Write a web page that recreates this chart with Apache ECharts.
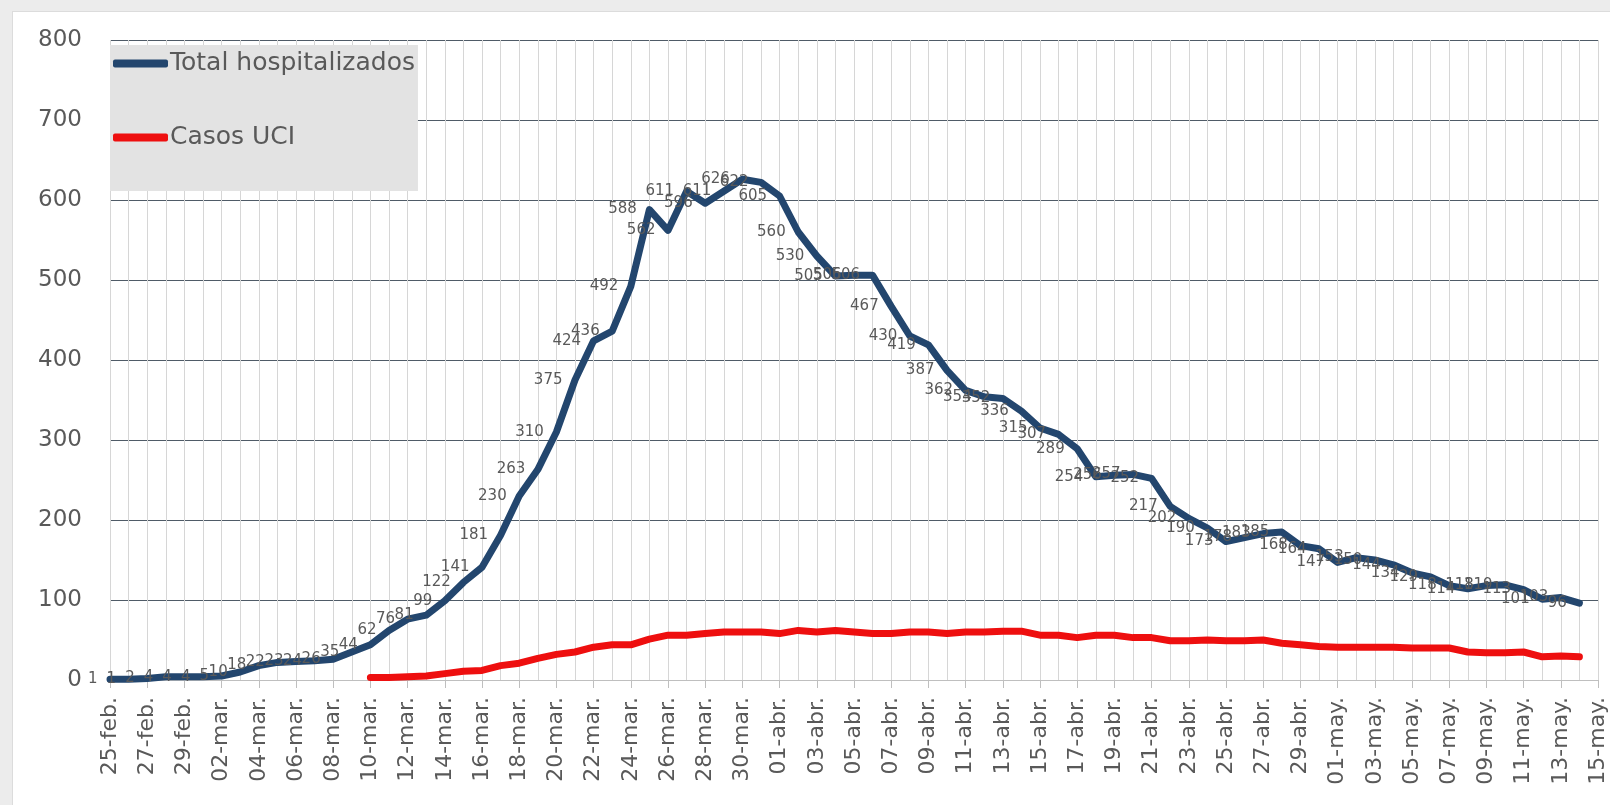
<!DOCTYPE html>
<html>
<head>
<meta charset="utf-8">
<script src="https://cdn.jsdelivr.net/npm/echarts@6/dist/echarts.min.js"></script>
<style>
  body { margin: 0; background: #ececec; }
  #chart {
    position: absolute; left: 12px; top: 11px; width: 1598px; height: 794px;
    background: #fff; border-left: 1px solid #dcdcdc; border-top: 1px solid #dcdcdc;
    box-sizing: border-box;
  }
</style>
</head>
<body>
<div id="chart"></div>
<script>
// month name, first day, last day shown on the axis
var months = [['feb', 25, 29], ['mar', 1, 31], ['abr', 1, 30], ['may', 1, 15]];

var hospitalizados = [
  1, 1, 2, 4, 4,                                   // feb
  4, 5, 10, 18, 22, 23, 24, 26, 35, 44, 62, 76, 81, 99, 122, 141,
  181, 230, 263, 310, 375, 424, 436, 492, 588, 562, 611, 596, 611, 626, 622, // mar
  605, 560, 530, 505, 506, 506, 467, 430, 419, 387, 362, 354, 352, 336, 315,
  307, 289, 254, 256, 257, 252, 217, 202, 190, 173, 178, 183, 185, 168, 164, // abr
  147, 153, 150, 144, 134, 129, 118, 114, 118, 119, 113, 101, 103, 96        // may
];

var uciStart = '10-mar.';
var uci = [
  3, 3, 4, 5, 8, 11, 12, 18, 21, 27, 32, 35, 41, 44, 44, 51, 56, 56, 58, 60, 60, 60,
  58, 62, 60, 62, 60, 58, 58, 60, 60, 58, 60, 60, 61, 61, 56,
  56, 53, 56, 56, 53, 53, 49, 49, 50, 49, 49, 50, 46, 44, 42,
  41, 41, 41, 41, 40, 40, 40, 35, 34, 34, 35, 29, 30, 29
];

var yTicks = [0, 800, 100];

var dias = [];
months.forEach(function (m) {
  for (var d = m[1]; d <= m[2]; d++) {
    dias.push((d < 10 ? '0' + d : '' + d) + '-' + m[0] + '.');
  }
});

var uciData = [];
var off = dias.indexOf(uciStart);
for (var i = 0; i < off; i++) uciData.push(null);
uciData = uciData.concat(uci);

var gris = '#595959';
var fuente = 'DejaVu Sans';

var myChart = echarts.init(document.getElementById('chart'));
myChart.setOption({
  animation: false,
  grid: { left: 97, right: 12, top: 28, bottom: 125 },
  legend: {
    orient: 'vertical',
    left: 97,
    top: 33,
    padding: [6, 3, 41, 3],
    itemGap: 49,
    itemWidth: 55,
    itemHeight: 8,
    icon: 'roundRect',
    backgroundColor: '#e3e3e3',
    textStyle: { fontSize: 25, color: gris, fontFamily: fuente, padding: [0, 0, 0, -3] },
    data: ['Total hospitalizados', 'Casos UCI']
  },
  xAxis: {
    type: 'category',
    data: dias,
    boundaryGap: false,
    axisLine: { lineStyle: { color: '#bfbfbf', width: 1 } },
    axisTick: { interval: 1, length: 8, lineStyle: { color: '#bfbfbf' } },
    axisLabel: {
      interval: 1, rotate: 90, margin: 17,
      fontSize: 22, color: gris, fontFamily: fuente
    },
    splitLine: { show: true, interval: 0, lineStyle: { color: '#d6d6d6', width: 1 } }
  },
  yAxis: {
    type: 'value',
    min: yTicks[0],
    max: yTicks[1],
    interval: yTicks[2],
    axisLine: { show: false },
    axisTick: { show: false },
    axisLabel: { margin: 28, fontSize: 23, color: gris, fontFamily: fuente },
    splitLine: {
      lineStyle: {
        color: ['#c8c8c8', '#4f5b67', '#4f5b67', '#4f5b67', '#4f5b67', '#4f5b67', '#4f5b67', '#4f5b67', '#4f5b67'],
        width: 1
      }
    }
  },
  series: [
    {
      name: 'Total hospitalizados',
      type: 'line',
      data: hospitalizados,
      color: '#23466e',
      symbol: 'circle',
      symbolSize: 1,
      showAllSymbol: true,
      lineStyle: { width: 7, cap: 'round', join: 'round' },
      label: {
        show: true,
        position: 'left',
        distance: 12,
        fontSize: 15,
        color: gris,
        fontFamily: fuente
      },
      z: 3
    },
    {
      name: 'Casos UCI',
      type: 'line',
      data: uciData,
      color: '#ee0f0f',
      symbol: 'none',
      lineStyle: { width: 7, cap: 'round', join: 'round' },
      z: 2
    }
  ]
});
</script>
</body>
</html>
